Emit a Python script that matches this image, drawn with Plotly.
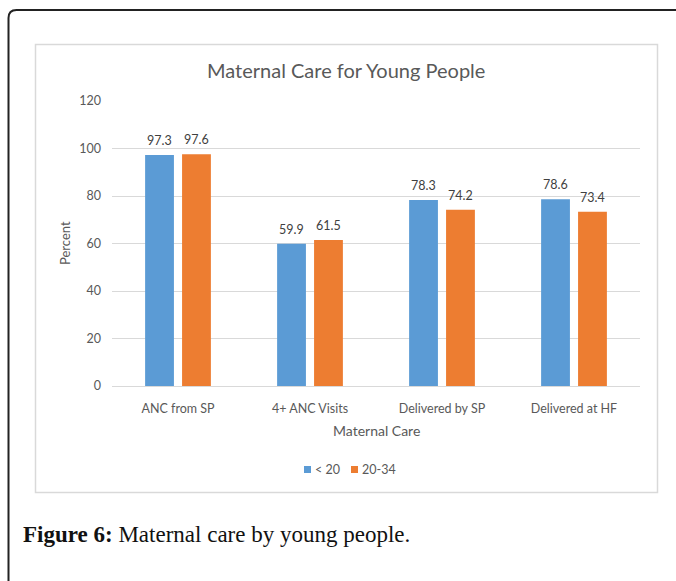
import plotly.graph_objects as go

# Chart data
categories = ["ANC from SP", "4+ ANC Visits", "Delivered by SP", "Delivered at HF"]
under_20 = [97.3, 59.9, 78.3, 78.6]
age_20_34 = [97.6, 61.5, 74.2, 73.4]
series_names = ["< 20", "20-34"]
series_colors = ["#5b9bd5", "#ed7d31"]
y_ticks = [0, 20, 40, 60, 80, 100, 120]

W, H = 676, 581
L, R, T, B = 112, 640, 101, 386  # plot area in pixels

def px(x):
    return (x - L) / (R - L)

def py(y):
    return (B - y) / (B - T)

grey = "#595959"
font_name = "Lato, Carlito, 'Open Sans', sans-serif"

fig = go.Figure()
series = [under_20, age_20_34]
for name, vals, color in zip(series_names, series, series_colors):
    fig.add_trace(go.Bar(
        x=categories, y=vals, name=name,
        marker=dict(color=color, line=dict(width=0)),
        showlegend=False,
        cliponaxis=False,
    ))

annotations = []
# value labels above each bar (slot width 37 px, bars offset half a slot)
slot = 37
for k, vals in enumerate(series):
    shift = (k - 0.5) * slot
    for cat, v in zip(categories, vals):
        annotations.append(dict(
            x=cat, y=v, xref="x", yref="y", text=f"{v:.1f}",
            xshift=shift, yshift=5, xanchor="center", yanchor="bottom",
            showarrow=False, font=dict(size=12.5, color="#404040", family=font_name)))

# outer rounded frame (left and top edges) and inner chart border
r = 8
frame_path = (
    f"M {px(8.5)} {py(600)} L {px(8.5)} {py(10 + r)} "
    f"Q {px(8.5)} {py(10)} {px(8.5 + r)} {py(10)} L {px(700)} {py(10)}"
)
shapes = [
    dict(type="path", xref="paper", yref="paper", path=frame_path,
         line=dict(color="#222222", width=2), layer="above"),
    dict(type="rect", xref="paper", yref="paper",
         x0=px(35.5), x1=px(657.5), y0=py(44.5), y1=py(492.5),
         line=dict(color="#d9d9d9", width=1.5), layer="below"),
]

# compact legend: colour squares with labels
legend_items = [(304, 313), (351, 360)]
for (sq_x, tx_x), name, color in zip(legend_items, series_names, series_colors):
    shapes.append(dict(type="rect", xref="paper", yref="paper",
                       x0=px(sq_x), x1=px(sq_x + 7), y0=py(466), y1=py(473),
                       fillcolor=color, line=dict(width=0)))
    annotations.append(dict(text=name, xref="paper", yref="paper",
                            x=px(tx_x), y=py(469.5), xanchor="left", yanchor="middle",
                            showarrow=False,
                            font=dict(size=12.5, color=grey, family=font_name)))

annotations += [
    dict(text="Maternal Care for Young People", xref="paper", yref="paper",
         x=px(346), y=py(70), xanchor="center", yanchor="middle",
         showarrow=False, font=dict(size=20, color=grey, family=font_name)),
    dict(text="Percent", xref="paper", yref="paper",
         x=px(65), y=py(243), xanchor="center", yanchor="middle", textangle=-90,
         showarrow=False, font=dict(size=13, color=grey, family=font_name)),
    dict(text="Maternal Care", xref="paper", yref="paper",
         x=px(376), y=py(430), xanchor="center", yanchor="middle",
         showarrow=False, font=dict(size=14, color=grey, family=font_name)),
    dict(text="<b>Figure 6:</b> Maternal care by young people.",
         xref="paper", yref="paper",
         x=px(21), y=py(534), xanchor="left", yanchor="middle",
         showarrow=False,
         font=dict(size=23, color="#111111", family="'Liberation Serif', 'DejaVu Serif', serif")),
]

fig.update_layout(
    width=W, height=H,
    margin=dict(l=L, r=W - R, t=T, b=H - B, pad=0),
    paper_bgcolor="white", plot_bgcolor="white",
    barmode="group", bargap=0.44, bargroupgap=0.22,
    showlegend=False,
    shapes=shapes, annotations=annotations,
    font=dict(family=font_name, color=grey),
)
fig.update_yaxes(range=[0, 120], tickvals=y_ticks, showgrid=True, gridcolor="#d9d9d9",
                 gridwidth=1, zeroline=False, showline=False, ticks="",
                 ticklabelstandoff=10,
                 tickfont=dict(size=12.5, color=grey, family=font_name))
fig.update_xaxes(showline=True, linecolor="#d9d9d9", linewidth=1, ticks="",
                 ticklabelstandoff=11,
                 tickfont=dict(size=12.5, color=grey, family=font_name))

fig.write_html("out.html")
